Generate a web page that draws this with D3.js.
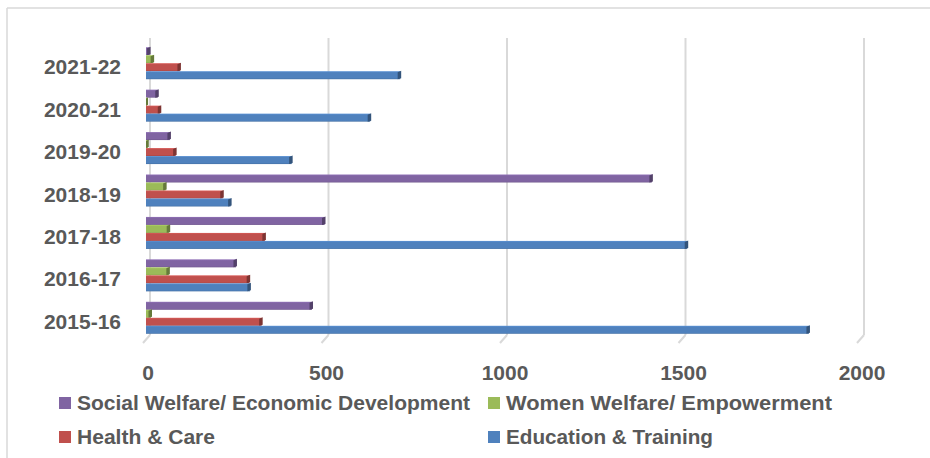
<!DOCTYPE html>
<html>
<head>
<meta charset="utf-8">
<script src="https://cdn.jsdelivr.net/npm/d3@7"></script>
<style>
  html, body { margin: 0; padding: 0; background: #ffffff; }
  svg { display: block; }
  text { font-family: "Liberation Sans", Arial, sans-serif; font-weight: bold; fill: #595959; }
</style>
</head>
<body>
<svg id="chart" width="930" height="458"></svg>
<script>
// Financial years, listed bottom to top as drawn
const years = ["2015-16", "2016-17", "2017-18", "2018-19", "2019-20", "2020-21", "2021-22"];

// Spending per head, one array per series (same order as years)
const socialWelfare = [465, 252, 500, 1417, 67, 33, 10];
const womenWelfare  = [14, 64, 65, 55, 5, 3, 20];
const healthCare    = [324, 289, 333, 215, 83, 40, 95];
const education     = [1857, 291, 1516, 237, 408, 628, 712];

const seriesNames = [
  "Social Welfare/ Economic Development",
  "Women Welfare/ Empowerment",
  "Health & Care",
  "Education & Training"
];
const seriesColors = ["#8064A2", "#9BBB59", "#C0504D", "#4F81BD"];
const seriesValues = [socialWelfare, womenWelfare, healthCare, education];

const xTicks = [0, 500, 1000, 1500, 2000];

const svg = d3.select("#chart");

// chart frame (top and left edges visible)
svg.append("line").attr("x1", 7).attr("y1", 8).attr("x2", 930).attr("y2", 8)
  .attr("stroke", "#d9d9d9").attr("stroke-width", 1.5);
svg.append("line").attr("x1", 7).attr("y1", 8).attr("x2", 7).attr("y2", 458)
  .attr("stroke", "#d9d9d9").attr("stroke-width", 1.5);

// front plane of the plot
const x = d3.scaleLinear().domain([0, 2000]).range([146, 860]);
const y = d3.scaleBand().domain(years.slice().reverse()).range([42, 339]).paddingInner(0).paddingOuter(0);
const groupH = 32;
const inner = d3.scaleBand().domain(d3.range(4)).range([0, groupH]);

// depth offset of the back wall
const dx = 4, dy = -4;

// gridlines on the back wall with a short floor edge
const grid = svg.append("g");
xTicks.forEach(t => {
  const gx = x(t) + dx;
  grid.append("line").attr("x1", gx).attr("x2", gx)
    .attr("y1", y.range()[0] + dy).attr("y2", y.range()[1] + dy)
    .attr("stroke", "#d9d9d9").attr("stroke-width", 2);
  grid.append("line").attr("x1", gx).attr("y1", y.range()[1] + dy)
    .attr("x2", gx - 7).attr("y2", y.range()[1] + 4)
    .attr("stroke", "#d9d9d9").attr("stroke-width", 2);
});

// gradients giving the bars a shaded, bevelled look
const defs = svg.append("defs");
seriesColors.forEach((c, i) => {
  const g = defs.append("linearGradient").attr("id", "grad" + i)
    .attr("x1", 0).attr("y1", 0).attr("x2", 0).attr("y2", 1);
  g.append("stop").attr("offset", "0%").attr("stop-color", d3.color(c).brighter(0.35));
  g.append("stop").attr("offset", "18%").attr("stop-color", c);
  g.append("stop").attr("offset", "85%").attr("stop-color", c);
  g.append("stop").attr("offset", "100%").attr("stop-color", d3.color(c).darker(0.4));
});

const bars = svg.append("g");
years.forEach((yr, yi) => {
  const gy = y(yr) + (y.bandwidth() - groupH) / 2;
  seriesValues.forEach((vals, si) => {
    const v = vals[yi];
    const by = gy + inner(si);
    const bh = inner.bandwidth();
    const x0 = x(0), x1 = x(v);
    const g = bars.append("g");
    g.append("rect").attr("x", x0).attr("y", by).attr("width", Math.max(0.8, x1 - x0)).attr("height", bh)
      .attr("fill", "url(#grad" + si + ")");
    // end cap
    const capW = Math.min(2.5, Math.max(0, x1 - x0));
    g.append("polygon")
      .attr("points", [[x1 - capW, by + 1], [x1 + 1, by - 0.5], [x1 + 1, by + bh - 1], [x1 - capW, by + bh]].map(p => p.join(",")).join(" "))
      .attr("fill", d3.color(seriesColors[si]).darker(1.2));
  });
});

// category labels
svg.append("g").selectAll("text").data(years).join("text")
  .attr("x", 121).attr("y", d => y(d) + y.bandwidth() / 2 + 11)
  .attr("text-anchor", "end").attr("font-size", 21)
  .text(d => d);

// value axis labels
svg.append("g").selectAll("text").data(xTicks).join("text")
  .attr("x", d => x(d) + 2).attr("y", 380)
  .attr("text-anchor", "middle").attr("font-size", 21)
  .text(d => d);

// legend
const legendPos = [
  { x: 59, y: 403, w: 393 },
  { x: 488, y: 403, w: 326 },
  { x: 59, y: 437, w: 138 },
  { x: 488, y: 437, w: 207 }
];
const legend = svg.append("g");
seriesNames.forEach((n, i) => {
  const p = legendPos[i];
  legend.append("rect").attr("x", p.x).attr("y", p.y - 6).attr("width", 12).attr("height", 12)
    .attr("fill", seriesColors[i]);
  legend.append("text").attr("x", p.x + 18).attr("y", p.y + 7)
    .attr("font-size", 20)
    .attr("textLength", p.w).attr("lengthAdjust", "spacingAndGlyphs")
    .text(n);
});
</script>
</body>
</html>
